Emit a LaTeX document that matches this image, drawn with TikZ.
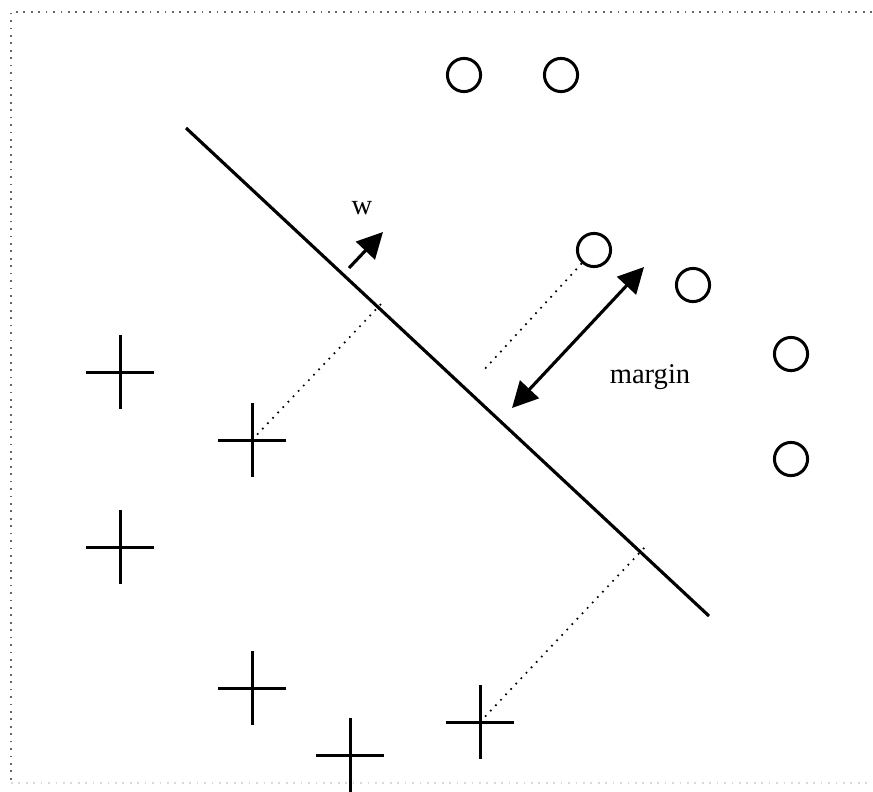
\documentclass[tikz,border=0pt]{standalone}
\usepackage{fontspec}
\setmainfont{Liberation Serif}
\usepackage{tikz}
\usetikzlibrary{arrows.meta}
\tikzset{
  sample/.style={circle, draw, line width=1.05pt, minimum size=11.6pt, inner sep=0pt},
  plusmark/.style={rectangle, minimum width=23.3pt, minimum height=25.3pt, inner sep=0pt},
  plusline/.style={line width=1.05pt},
  plane/.style={line width=1.1pt},
  proj/.style={dotted, line width=0.6pt},
  arr/.style={-{Triangle[length=9pt, width=9pt]}, line width=1.1pt},
  darr/.style={{Triangle[length=9pt, width=9pt]}-{Triangle[length=9pt, width=9pt]}, line width=1.1pt},
  frame/.style={dotted, line width=0.6pt, gray!80!black},
  lbl/.style={font=\normalsize, inner sep=1pt},
}
\begin{document}
\begin{tikzpicture}[x=0.35pt, y=-0.35pt]
\useasboundingbox (0,0) rectangle (873,791);
% frame
\coordinate (f1) at (11,12);
\coordinate (f2) at (872,12);
\coordinate (f3) at (872,783);
\coordinate (f4) at (11,783);
\draw[frame] (f2) -- (f1) -- (f4);
\draw[frame, gray!30] (f4) -- (f3);
% separating hyperplane
\coordinate (h1) at (186,128);
\coordinate (h2) at (709,616);
\draw[plane] (h1) -- (h2);
% class o
\foreach \n/\x/\y in {1/464/75, 2/561/75, 3/594/250, 4/693/285, 5/791/354, 6/791/459}
  \node[sample] (o\n) at (\x,\y) {};
% class +
\foreach \n/\x/\y in {1/120/372, 2/252/440, 3/120/547, 4/252/688, 5/350/755, 6/480/722} {
  \node[plusmark] (p\n) at (\x,\y) {};
  \draw[plusline] (p\n.west) -- (p\n.east) (p\n.north) -- (p\n.south);
}
% projections onto the hyperplane
\coordinate (m1) at (383,302);
\coordinate (m2) at (482,372);
\coordinate (m3) at (645,547);
\draw[proj] (p2.center) -- (m1);
\draw[proj] (o3) -- (m2);
\draw[proj] (p6.center) -- (m3);
% normal vector
\coordinate (w0) at (349,268);
\coordinate (w1) at (383,232);
\draw[arr] (w0) -- (w1);
\node[lbl] (wlab) at (362,208) {w};
% margin
\coordinate (g0) at (512,408);
\coordinate (g1) at (644,267);
\draw[darr] (g0) -- (g1);
\node[lbl] (mlab) at (650,377) {margin};
\end{tikzpicture}
\end{document}
